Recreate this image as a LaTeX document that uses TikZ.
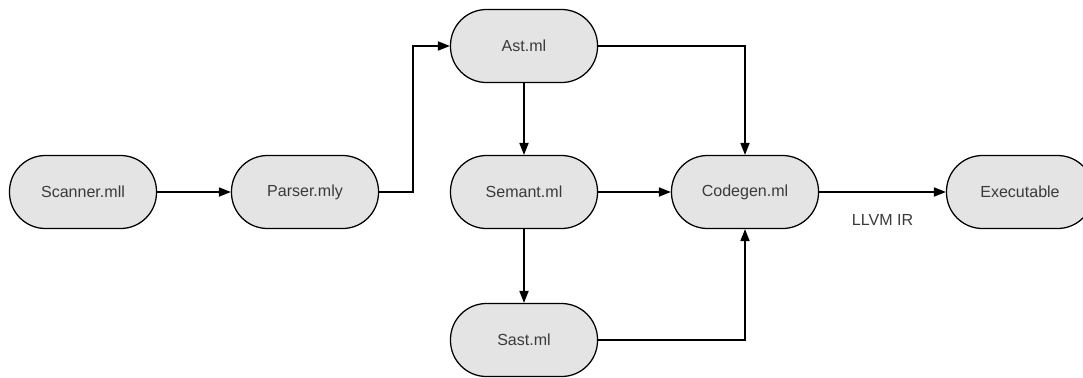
\documentclass[tikz,border=0pt]{standalone}
\usepackage{fontspec}
\setmainfont{Liberation Sans}
\usetikzlibrary{arrows.meta}
\definecolor{boxgray}{HTML}{E4E4E4}
\definecolor{textgray}{HTML}{3A3A3A}
\tikzset{
  module/.style={draw, line width=0.9pt, fill=boxgray, rounded corners=0.9cm,
    minimum width=3.675cm, minimum height=1.825cm, text=textgray,
    font=\fontsize{11.4}{13}\selectfont},
  flow/.style={line width=0.9pt, -{Triangle[length=8.5pt,width=6.5pt]}}
}
\begin{document}
\begin{tikzpicture}[x=0.025cm, y=-0.025cm]
\useasboundingbox (0,0) rectangle (1083,377);
%\draw [lightgray, ultra thin] (0,0) grid [step=50] (1083,377);

\node [module] (scanner) at (83,192) {Scanner.mll};
\node [module] (parser) at (305,192) {Parser.mly};
\node [module] (ast) at (524,46) {Ast.ml};
\node [module] (semant) at (524,192) {Semant.ml};
\node [module] (sast) at (524,340) {Sast.ml};
\node [module] (codegen) at (745,192) {Codegen.ml};
\node [module] (exec) at (1020,192) {Executable};

\coordinate (bend) at (413,192);

\draw [flow] (scanner) -- (parser);
\draw [flow] (parser) -- (bend) |- (ast);
\draw [flow] (ast) -| (codegen);
\draw [flow] (ast) -- (semant);
\draw [flow] (semant) -- (codegen);
\draw [flow] (semant) -- (sast);
\draw [flow] (sast) -| (codegen);
\draw [flow] (codegen) -- node [below=12pt, text=textgray, font=\fontsize{11.4}{13}\selectfont] {LLVM IR} (exec);
\end{tikzpicture}
\end{document}
